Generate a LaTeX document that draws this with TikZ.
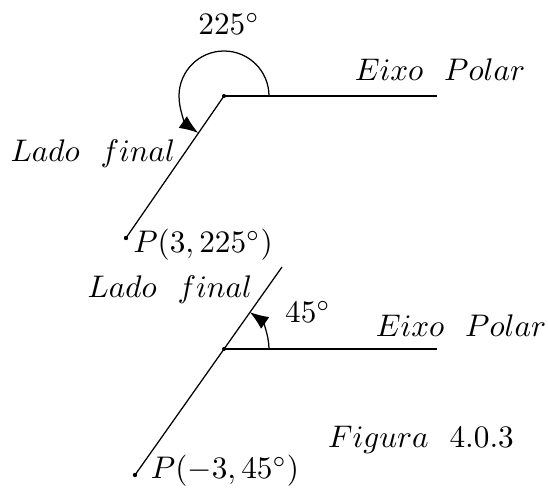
\documentclass[tikz,border=0pt]{standalone}
\usepackage{amsmath}
\usepackage{tikz}
\usetikzlibrary{arrows.meta}

\begin{document}
\begin{tikzpicture}[x=0.32pt,y=0.32pt,
  seta/.style={-{Latex[length=6pt,width=4.6pt]}}]
  \useasboundingbox (0,0) rectangle (548,490);
  % angulo de 225 graus
  \coordinate (O1) at (224,394);
  \coordinate (E1) at (437,394);
  \coordinate (P1) at (126,252);
  \draw (O1) -- (E1);
  \draw (O1) -- (P1);
  \fill (O1) circle (2);
  \fill (P1) circle (2.2);
  \draw[seta] (O1) ++(45,0) arc (0:235:45);
  \node (ang1) at (229,466) {$225^\circ$};
  \node (eixo1) at (440,420) {$Eixo\ \ Polar$};
  \node (lado1) at (93,336) {$Lado\ \ final$};
  \node (pt1) at (203,245) {$P(3,225^\circ)$};
  % angulo de 45 graus, raio negativo
  \coordinate (O2) at (224,141);
  \coordinate (E2) at (437,141);
  \coordinate (Q2) at (282,223);
  \coordinate (P2) at (135,15);
  \draw (O2) -- (E2);
  \draw (Q2) -- (P2);
  \fill (O2) circle (2);
  \fill (P2) circle (2.2);
  \draw[seta] (O2) ++(45,0) arc (0:55:45);
  \node (ang2) at (308,178) {$45^\circ$};
  \node (eixo2) at (461,164) {$Eixo\ \ Polar$};
  \node (lado2) at (170,200) {$Lado\ \ final$};
  \node (fig) at (421,50) {$Figura\ \ 4.0.3$};
  \node (pt2) at (225,19) {$P(-3,45^\circ)$};
\end{tikzpicture}
\end{document}
